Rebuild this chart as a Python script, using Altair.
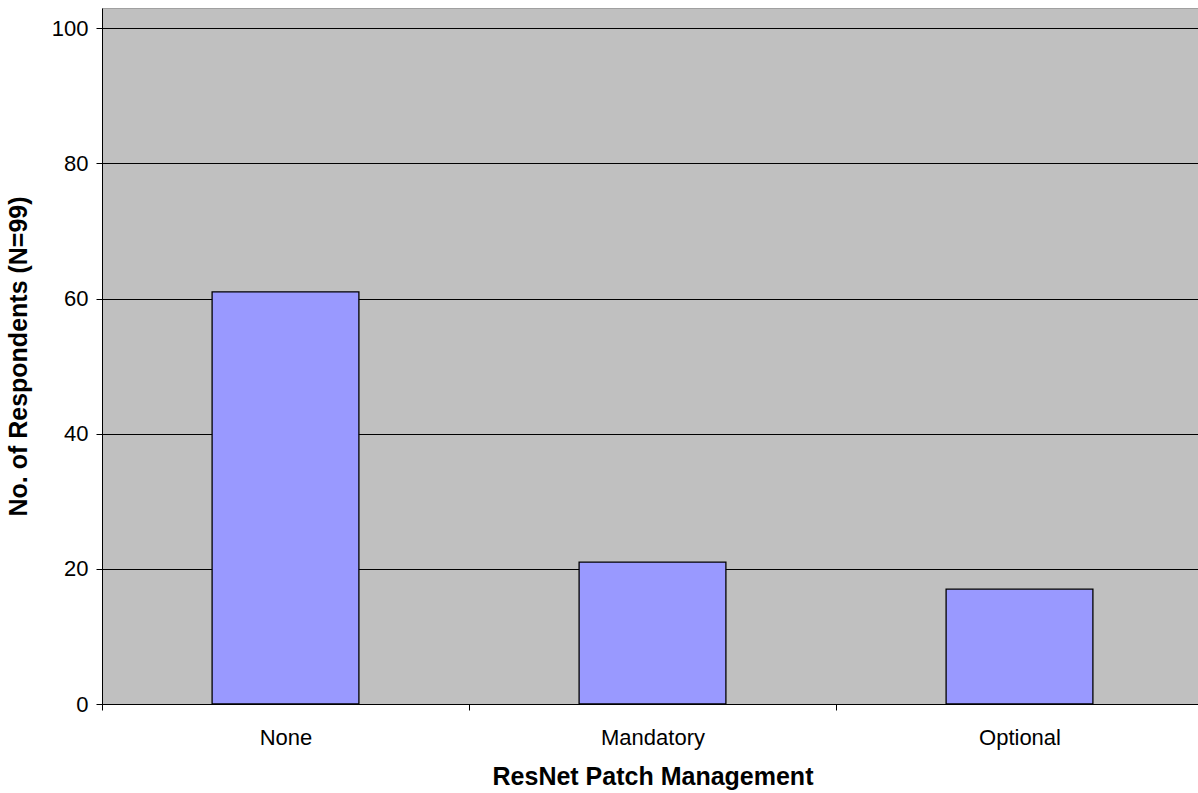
import altair as alt
import pandas as pd

categories = ["None", "Mandatory", "Optional"]
respondents = [61, 21, 17]
y_ticks = [0, 20, 40, 60, 80, 100]

df = pd.DataFrame({"category": categories, "count": respondents})

FONT = "Liberation Sans"
STEP = 367.0

chart = alt.Chart(df).mark_bar(
    color="#9999FF", stroke="#000000", strokeWidth=1.3
).encode(
    x=alt.X(
        "category:N",
        sort=categories,
        title="ResNet Patch Management",
        scale=alt.Scale(paddingInner=0.6, paddingOuter=0.3, range=[0, STEP * 3]),
        axis=alt.Axis(
            labelAngle=0,
            tickOffset=-STEP / 2,
            labelOffset=STEP / 2,
            tickSize=6,
            tickColor="#000000",
            domainColor="#000000",
            labelPadding=17,
            titlePadding=16,
            grid=False,
        ),
    ),
    y=alt.Y(
        "count:Q",
        title="No. of Respondents (N=99)",
        scale=alt.Scale(domain=[0, 103], nice=False),
        axis=alt.Axis(
            values=y_ticks,
            tickSize=6,
            tickColor="#000000",
            domainColor="#000000",
            labelPadding=8,
            titlePadding=20,
            grid=True,
            gridColor="#000000",
            gridWidth=1,
        ),
    ),
).properties(
    width=1096,
    height=696,
    background="#FFFFFF",
    autosize=alt.AutoSizeParams(type="none"),
    padding={"left": 102, "top": 8, "right": 0, "bottom": 89},
).configure_view(
    fill="#C0C0C0", stroke="#A0A0A0", strokeWidth=1
).configure_axis(
    labelFont=FONT,
    titleFont=FONT,
    labelFontSize=22,
    titleFontSize=25,
    labelColor="#000000",
    titleColor="#000000",
    labelFontWeight="normal",
    titleFontWeight="bold",
)

chart.save("out.html", embed_options={"renderer": "svg", "actions": False})
